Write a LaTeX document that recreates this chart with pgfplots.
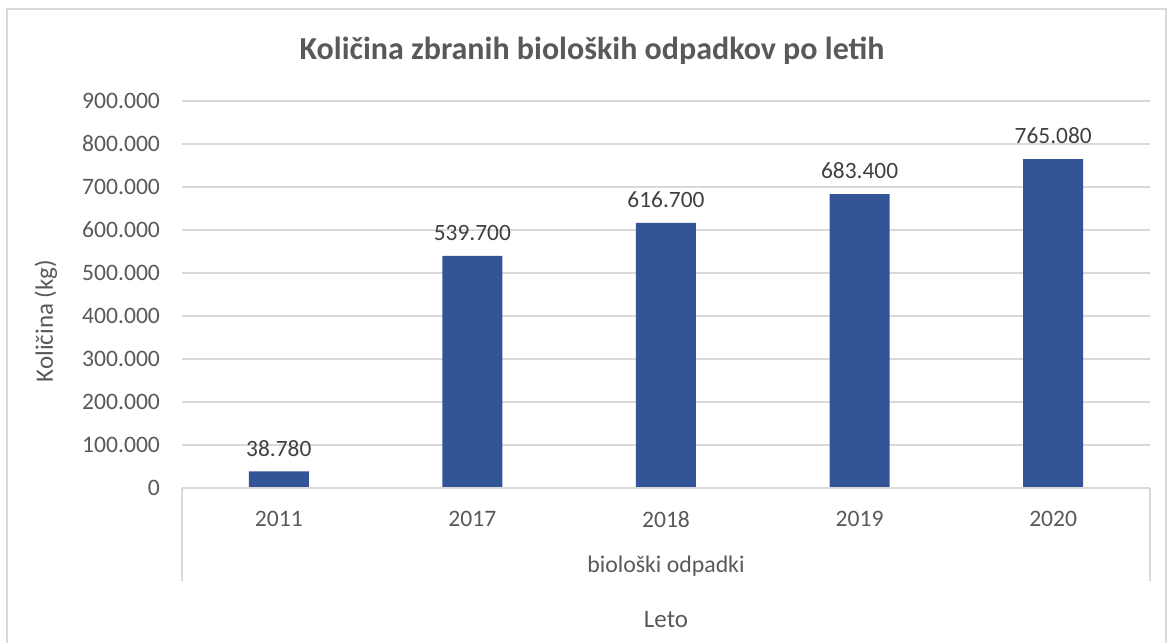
\documentclass[border=0pt]{standalone}
\usepackage{pgfplots}
\pgfplotsset{compat=1.18}
\usepackage{fontspec}
\setmainfont{Carlito}
\definecolor{barblue}{HTML}{335496}
\definecolor{txt}{HTML}{595959}
\definecolor{lbl}{HTML}{404040}
\definecolor{gridgray}{HTML}{D9D9D9}
\begin{document}
\begin{tikzpicture}[x=1pt,y=1pt]
\path[use as bounding box] (0,0) rectangle (584,321.5);
% chart frame (cut off at the bottom)
\draw[gridgray, line width=0.75pt] (3.5,0) -- (3.5,317) -- (583,317) -- (583,0);
\node[txt, font=\fontsize{16}{19}\selectfont\bfseries, anchor=base] at (296,291.5)
  {Količina zbranih bioloških odpadkov po letih};
\node[txt, font=\fontsize{12.5}{15}\selectfont, rotate=90, anchor=base] at (26.5,161)
  {Količina (kg)};
\begin{axis}[
  at={(91pt,77.5pt)}, anchor=south west,
  scale only axis, width=484pt, height=193.5pt,
  clip=false,
  ybar, bar width=30pt,
  xmin=-0.5, xmax=4.5, ymin=0, ymax=900000,
  ytick={0,100000,...,900000},
  scaled y ticks=false,
  xtick=data, xticklabels={2011,2017,2018,2019,2020},
  axis line style={draw=none},
  major tick length=0pt,
  ymajorgrids, grid style={gridgray, line width=0.6pt},
  /pgf/number format/.cd, fixed, precision=0, 1000 sep={.}, assume math mode=true,
  /pgfplots/.cd,
  tick label style={txt, font=\fontsize{11.8}{14}\selectfont},
  yticklabel style={xshift=-7.5pt},
  xticklabel style={yshift=-8pt},
  nodes near coords,
  nodes near coords style={lbl, font=\fontsize{11.7}{14}\selectfont, yshift=4pt},
]
\addplot[fill=barblue, draw=none] coordinates {
  (0,38780) (1,539700) (2,616700) (3,683400) (4,765080)
};
\draw[gridgray, line width=0.75pt] (rel axis cs:0,0) -- (rel axis cs:1,0);
\draw[gridgray, line width=0.75pt] (rel axis cs:0,0) -- ([yshift=-46.5pt]rel axis cs:0,0);
\draw[gridgray, line width=0.75pt] (rel axis cs:1,0) -- ([yshift=-46.5pt]rel axis cs:1,0);
\node[txt, font=\fontsize{11.9}{14}\selectfont, anchor=base] at ([yshift=-42pt]rel axis cs:0.5,0) {biološki odpadki};
\node[txt, font=\fontsize{12.5}{15}\selectfont, anchor=base] at ([yshift=-69.5pt]rel axis cs:0.5,0) {Leto};
\end{axis}
\end{tikzpicture}
\end{document}
